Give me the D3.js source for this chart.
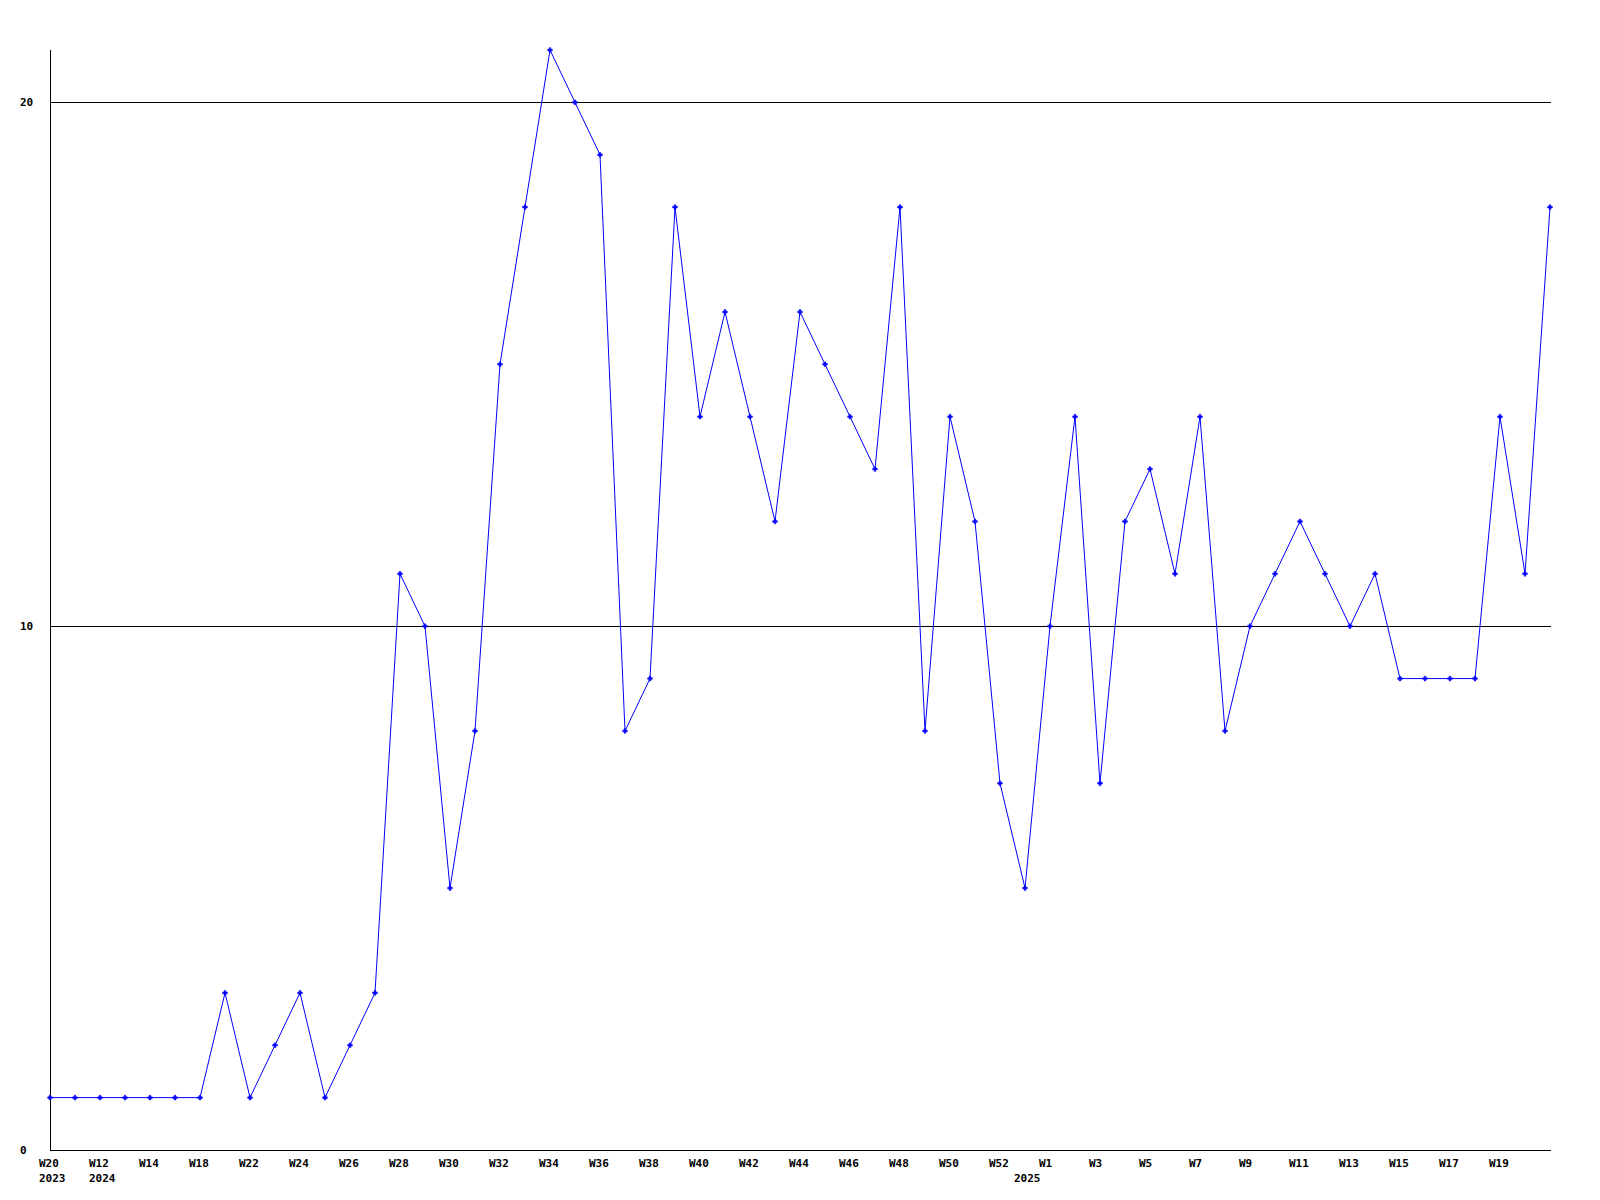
<!DOCTYPE html>
<html>
<head>
<meta charset="utf-8">
<script src="https://cdn.jsdelivr.net/npm/d3@7"></script>
<style>
  html, body { margin: 0; padding: 0; background: #fff; }
  svg { display: block; }
  text { font-family: "DejaVu Sans Mono", "Liberation Mono", monospace; font-weight: bold; font-size: 11px; fill: #000; }
</style>
</head>
<body>
<script>
// Values per point (61 weekly points)
const values = [1,1,1,1,1,1,1,3,1,2,3,1,2,3,11,10,5,8,15,18,21,20,19,8,9,18,14,16,14,12,16,15,14,13,18,8,14,12,7,5,10,14,7,12,13,11,14,8,10,11,12,11,10,11,9,9,9,9,14,11,18];
// Week labels shown every second point (index -> label)
const weekTickIndex = [0,2,4,6,8,10,12,14,16,18,20,22,24,26,28,30,32,34,36,38,40,42,44,46,48,50,52,54,56,58];
const weekTickLabels = ["W20","W12","W14","W18","W22","W24","W26","W28","W30","W32","W34","W36","W38","W40","W42","W44","W46","W48","W50","W52","W1","W3","W5","W7","W9","W11","W13","W15","W17","W19"];
const yearTickIndex = [0,2,39];
const yearTickLabels = ["2023","2024","2025"];
const yTicks = [0,10,20];
const yMax = 21;

const W = 1600, H = 1200;
const mLeft = 50, mRight = 1550, mTop = 50, mBottom = 1150;

const svg = d3.select("body").append("svg").attr("width", W).attr("height", H);

const x = d3.scaleLinear().domain([0, values.length - 1]).range([mLeft, mRight]);
const y = d3.scaleLinear().domain([0, yMax]).range([mBottom, mTop]);

// gridlines
svg.append("g").selectAll("line").data(yTicks.filter(d => d > 0)).join("line")
  .attr("x1", mLeft).attr("x2", mRight + 1)
  .attr("y1", d => Math.round(y(d)) + 0.5).attr("y2", d => Math.round(y(d)) + 0.5)
  .attr("stroke", "#000").attr("stroke-width", 1).attr("shape-rendering", "crispEdges");

// axes lines
svg.append("line").attr("x1", mLeft + 0.5).attr("x2", mLeft + 0.5).attr("y1", mTop).attr("y2", mBottom + 1)
  .attr("stroke", "#000").attr("shape-rendering", "crispEdges");
svg.append("line").attr("x1", mLeft).attr("x2", mRight + 1).attr("y1", mBottom + 0.5).attr("y2", mBottom + 0.5)
  .attr("stroke", "#000").attr("shape-rendering", "crispEdges");

// y labels
svg.append("g").selectAll("text").data(yTicks).join("text")
  .attr("x", 20).attr("y", d => y(d)).attr("dy", "0.35em")
  .text(d => d);

// x week labels
svg.append("g").selectAll("text").data(weekTickIndex).join("text")
  .attr("x", d => x(d) - 11).attr("y", mBottom + 13).attr("dy", "0.35em")
  .text((d, i) => weekTickLabels[i]);

// year labels
svg.append("g").selectAll("text").data(yearTickIndex).join("text")
  .attr("x", d => x(d) - 11).attr("y", mBottom + 28).attr("dy", "0.35em")
  .text((d, i) => yearTickLabels[i]);

// line
const line = d3.line().x((d, i) => x(i)).y(d => y(d));
svg.append("path").datum(values)
  .attr("d", line).attr("fill", "none").attr("stroke", "#0000ff").attr("stroke-width", 1);

// markers
svg.append("g").selectAll("path").data(values).join("path")
  .attr("transform", (d, i) => `translate(${x(i)},${y(d)})`)
  .attr("d", d3.symbol().type(d3.symbolCross).size(12))
  .attr("fill", "#0000ff").attr("stroke", "#0000ff").attr("stroke-width", 0.6);
</script>
</body>
</html>
